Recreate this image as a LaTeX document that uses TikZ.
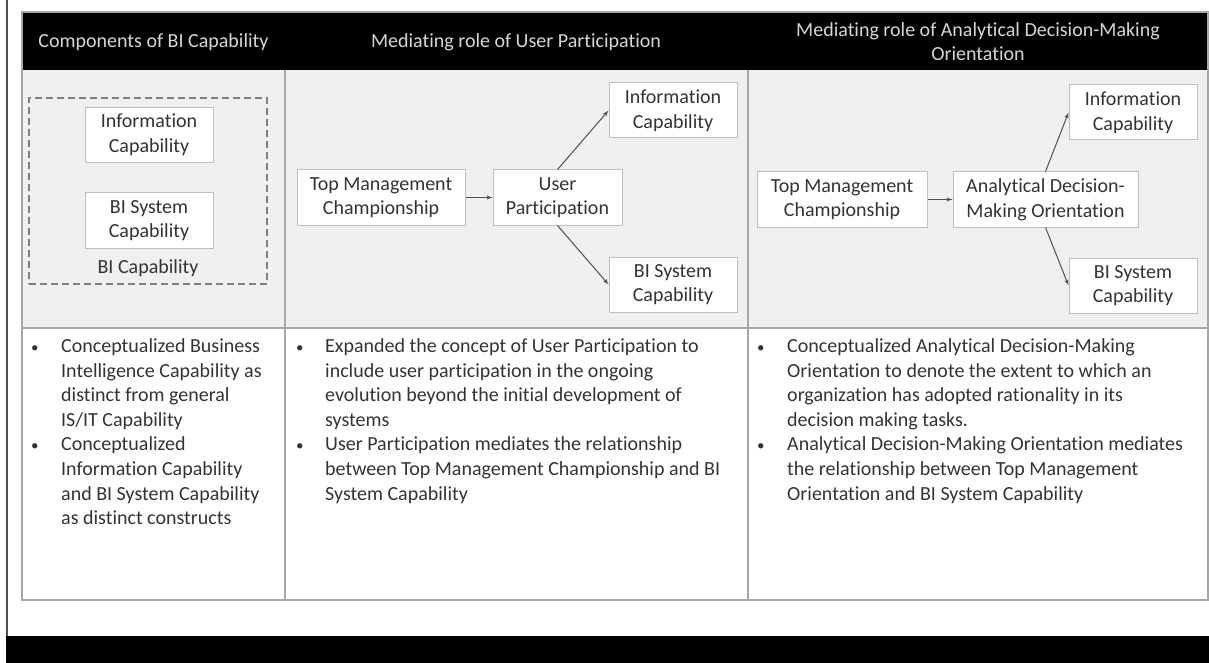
\documentclass[tikz,border=0pt]{standalone}
\usepackage{fontspec}
\setmainfont{Carlito}[Ligatures={NoCommon,NoRare,NoContextual}]
\usetikzlibrary{arrows,positioning,calc}
\definecolor{hdrtxt}{HTML}{D6D6D6}
\definecolor{cellgray}{HTML}{F0F0F0}
\definecolor{rulegray}{HTML}{A6A6A6}
\definecolor{boxline}{HTML}{BFBFBF}
\definecolor{txtgray}{HTML}{333333}
\definecolor{linkgray}{HTML}{505050}
\newcommand{\cellfont}{\fontsize{20}{24.6}\selectfont}
\newcommand{\dotmark}{{\fontsize{15}{15}\selectfont\textbullet}}
\tikzset{
cbox/.style  = {draw=boxline, line width=1pt, fill=white, rectangle, align=center, text=txtgray, minimum height=55pt, inner sep=2pt},
hdr/.style   = {text=hdrtxt, align=center},
notes/.style = {anchor=north west, inner sep=0pt, text=txtgray},
grid/.style  = {draw=rulegray, line width=1.3pt},
group/.style = {draw=gray, line width=1.4pt, dash pattern=on 7pt off 4pt, rectangle},
link/.style  = {draw=linkgray, line width=1pt, ->}
}

\begin{document}
\begin{tikzpicture}[x=1pt, y=-1pt, >=latex', font=\cellfont]
  \useasboundingbox (0,0) rectangle (1209,663);
  % frame
  \draw [linkgray, line width=2pt] (7,0) -- (7,636);
  \fill [black] (6,636) rectangle (1209,663);
  \fill [cellgray] (22,70) rectangle (1208,328);
  \fill [black] (22,12) rectangle (1208,70);
  \draw [grid] (22,12) rectangle (1208,600);
  \draw [grid] (22,328) -- (1208,328);
  \draw [grid] (285,70) -- (285,600);
  \draw [grid] (748,70) -- (748,600);

  % header
  \node [hdr] (hdr1) at (153.5,42) {Components of BI Capability};
  \node [hdr] (hdr2) at (516,42)   {Mediating role of User Participation};
  \node [hdr] (hdr3) at (978,41.5) {Mediating role of Analytical Decision-Making\\Orientation};

  % components of BI capability
  \node [group, minimum width=238pt, minimum height=186pt] (bicap) at (148,191) {};
  \node [cbox, minimum width=128pt] (info1)  at (149,135)   {Information\\Capability};
  \node [cbox, minimum width=128pt] (bisys1) at (149,220.5) {BI System\\Capability};
  \node [text=txtgray, above=4pt of bicap.south] (bilabel) {BI Capability};

  % user participation
  \node [cbox, minimum width=168pt] (tmc2)   at (381,197.5) {Top Management\\Championship};
  \node [cbox, minimum width=129pt, right=27pt of tmc2] (up) {User\\Participation};
  \node [cbox, minimum width=128pt] (info2)  at (673,110.5) {Information\\Capability};
  \node [cbox, minimum width=128pt] (bisys2) at (673,284.5) {BI System\\Capability};
  \draw [link] (tmc2) -- (up);
  \draw [link] (up.north) -- (info2.west);
  \draw [link] (up.south) -- (bisys2.west);

  % analytical decision-making orientation
  \node [cbox, minimum width=170pt] (tmc3)   at (842,199.5) {Top Management\\Championship};
  \node [cbox, minimum width=185pt, right=25pt of tmc3] (admo) {Analytical Decision-\\Making Orientation};
  \node [cbox, minimum width=128pt] (info3)  at (1133,112.5) {Information\\Capability};
  \node [cbox, minimum width=128pt] (bisys3) at (1133,285.5) {BI System\\Capability};
  \draw [link] (tmc3) -- (admo);
  \draw [link] (admo.north) -- (info3.west);
  \draw [link] (admo.south) -- (bisys3.west);

  % findings
  \node [notes] (notes1) at (31,335) {\begin{tabular}{@{}p{30pt}@{}l@{}}
    \dotmark & Conceptualized Business\\
             & Intelligence Capability as\\
             & distinct from general\\
             & IS/IT Capability\\
    \dotmark & Conceptualized\\
             & Information Capability\\
             & and BI System Capability\\
             & as distinct constructs
  \end{tabular}};
  \node [notes] (notes2) at (296,335) {\begin{tabular}{@{}p{29pt}@{}l@{}}
    \dotmark & Expanded the concept of User Participation to\\
             & include user participation in the ongoing\\
             & evolution beyond the initial development of\\
             & systems\\
    \dotmark & User Participation mediates the relationship\\
             & between Top Management Championship and BI\\
             & System Capability
  \end{tabular}};
  \node [notes] (notes3) at (757,335) {\begin{tabular}{@{}p{30pt}@{}l@{}}
    \dotmark & Conceptualized Analytical Decision-Making\\
             & Orientation to denote the extent to which an\\
             & organization has adopted rationality in its\\
             & decision making tasks.\\
    \dotmark & Analytical Decision-Making Orientation mediates\\
             & the relationship between Top Management\\
             & Orientation and BI System Capability
  \end{tabular}};
\end{tikzpicture}
\end{document}
